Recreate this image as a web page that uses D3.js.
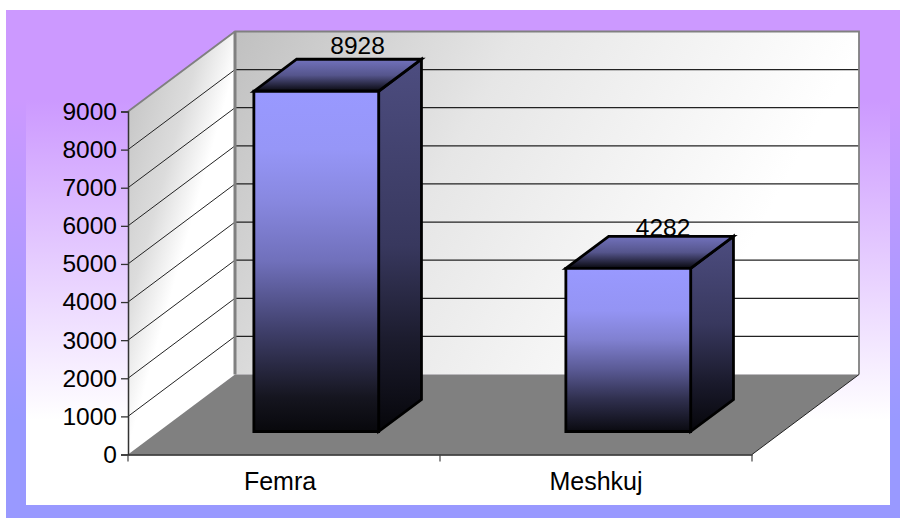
<!DOCTYPE html>
<html>
<head>
<meta charset="utf-8">
<script src="https://cdn.jsdelivr.net/npm/d3@7/dist/d3.min.js"></script>
<style>
  html, body { margin: 0; padding: 0; background: #fff; }
  svg { display: block; }
  text { font-family: "Liberation Sans", Arial, sans-serif; font-size: 24.5px; fill: #000; }
</style>
</head>
<body>
<svg width="900" height="518"></svg>
<script>
// Values
var categories = ['Femra', 'Meshkuj'];
var values = [8928, 4282];
var valueTicks = [0, 1000, 2000, 3000, 4000, 5000, 6000, 7000, 8000, 9000];

var svg = d3.select('svg');

// Front plane of the chart box
var left = 128, right = 752, bottom = 454.5, top3d = 111.5;
// How far the back wall is shifted from the front plane
var depthX = 107, depthY = 80;
// Where the bars sit inside the box depth (0 = front, 1 = back)
var barDepthFrom = 0.2875, barDepthTo = 0.6875;

var xScale = d3.scaleBand().domain(categories).range([left, right]).paddingInner(0).paddingOuter(0);
var yScale = d3.scaleLinear().domain([0, 9000]).range([bottom, top3d]);

// Project a point in the box (x on front plane, value, depth) to the screen
function px(x, depth) { return x + depthX * depth; }
function py(v, depth) { return yScale(v) - depthY * depth; }
function pts(list) { return list.map(function (p) { return p.join(','); }).join(' '); }

// Gradients
var defs = svg.append('defs');

function addGradient(id, attrs, stops) {
  var g = defs.append('linearGradient').attr('id', id);
  Object.keys(attrs).forEach(function (k) { g.attr(k, attrs[k]); });
  stops.forEach(function (s) {
    g.append('stop').attr('offset', s[0]).attr('stop-color', s[1]);
  });
}

var vert = { x1: 0, y1: 0, x2: 0, y2: 1 };
var userVert = { gradientUnits: 'userSpaceOnUse', x1: 0, y1: 100, x2: 0, y2: 420 };

addGradient('bgOuter', userVert, [[0, '#cc99ff'], [1, '#9999ff']]);
addGradient('bgInner', userVert, [[0, '#cc99ff'], [1, '#ffffff']]);
addGradient('wallBack', { gradientUnits: 'userSpaceOnUse', x1: 235, y1: 31, x2: 720, y2: 300 },
  [[0, '#c0c0c0'], [0.45, '#e6e6e6'], [1, '#ffffff']]);
addGradient('wallSide', { gradientUnits: 'userSpaceOnUse', x1: 128, y1: 120, x2: 235, y2: 150 },
  [[0, '#c8c8c8'], [0.45, '#dcdcdc'], [0.8, '#ffffff']]);

// Tall and short bars do not shade at the same rate, so each has its own stops
var frontStops = [
  [[0, '#9999ff'], [0.17, '#9696f7'], [0.32, '#8888e0'], [0.5, '#7070bb'], [0.7, '#40406c'], [0.9, '#15151f'], [1, '#08080c']],
  [[0, '#9999ff'], [0.26, '#9494f4'], [0.44, '#8080d0'], [0.62, '#5a5a95'], [0.8, '#30304f'], [1, '#0a0a10']]
];
var sideStops = [
  [[0, '#4d4d80'], [0.5, '#38385e'], [0.75, '#1c1c2e'], [1, '#06060a']],
  [[0, '#4d4d80'], [0.45, '#38385e'], [0.75, '#1a1a2c'], [1, '#06060a']]
];
categories.forEach(function (c, i) {
  addGradient('barFront' + i, vert, frontStops[i]);
  addGradient('barSide' + i, vert, sideStops[i]);
});
addGradient('barTop', vert, [[0, '#7272bd'], [0.5, '#55558c'], [1, '#08080e']]);

// Slide background
svg.append('rect').attr('x', 6).attr('y', 10).attr('width', 894).attr('height', 508).attr('fill', 'url(#bgOuter)');
svg.append('rect').attr('x', 26).attr('y', 10).attr('width', 864).attr('height', 495).attr('fill', 'url(#bgInner)');

// Back wall, side wall and floor
svg.append('polygon')
  .attr('points', pts([[px(left, 1), py(9000, 1)], [px(right, 1), py(9000, 1)], [px(right, 1), py(0, 1)], [px(left, 1), py(0, 1)]]))
  .attr('fill', 'url(#wallBack)');
svg.append('polygon')
  .attr('points', pts([[left, py(0, 0)], [px(left, 1), py(0, 1)], [px(left, 1), py(9000, 1)], [left, py(9000, 0)]]))
  .attr('fill', 'url(#wallSide)');

// Gridlines on both walls
valueTicks.slice(1, -1).forEach(function (v) {
  svg.append('line')
    .attr('x1', px(left, 1)).attr('x2', px(right, 1))
    .attr('y1', py(v, 1)).attr('y2', py(v, 1))
    .attr('stroke', '#222').attr('stroke-width', 1.2);
  svg.append('line')
    .attr('x1', left).attr('x2', px(left, 1))
    .attr('y1', py(v, 0)).attr('y2', py(v, 1))
    .attr('stroke', '#222').attr('stroke-width', 1);
});

svg.append('polygon')
  .attr('points', pts([[left, py(0, 0)], [right, py(0, 0)], [px(right, 1), py(0, 1)], [px(left, 1), py(0, 1)]]))
  .attr('fill', '#808080');

// Wall outlines
svg.append('polyline')
  .attr('points', pts([[left, py(9000, 0)], [px(left, 1), py(9000, 1)], [px(right, 1), py(9000, 1)], [px(right, 1), py(0, 1)]]))
  .attr('fill', 'none').attr('stroke', '#808080').attr('stroke-width', 1.8);
svg.append('line')
  .attr('x1', px(left, 1)).attr('x2', px(left, 1))
  .attr('y1', py(9000, 1)).attr('y2', py(0, 1))
  .attr('stroke', '#808080').attr('stroke-width', 3);
svg.append('line')
  .attr('x1', right).attr('x2', px(right, 1))
  .attr('y1', py(0, 0)).attr('y2', py(0, 1))
  .attr('stroke', '#222').attr('stroke-width', 1);

// Axes
var yAxis = d3.axisLeft(yScale).tickValues(valueTicks).tickSize(7).tickPadding(4).tickFormat(d3.format('d'));
var yG = svg.append('g').attr('transform', 'translate(' + left + ',0)').call(yAxis);
yG.selectAll('path').attr('stroke', '#333').attr('stroke-width', 1.5);
yG.selectAll('line').attr('stroke', '#333').attr('stroke-width', 1.3);
yG.selectAll('text').style('font-family', '"Liberation Sans", Arial, sans-serif').style('font-size', '24.5px').attr('fill', '#000');

var xAxis = d3.axisBottom(xScale).tickSize(0).tickPadding(18);
var xG = svg.append('g').attr('transform', 'translate(0,' + bottom + ')').call(xAxis);
xG.selectAll('path').attr('stroke', '#222').attr('stroke-width', 1.6);
xG.selectAll('text').style('font-family', '"Liberation Sans", Arial, sans-serif').style('font-size', '25px').attr('fill', '#000')
  .attr('dx', function (d, i) { return i === 0 ? -4 : 0; });

// Category ticks sit on the band edges
var bandEdges = categories.map(function (c) { return xScale(c); }).concat([right]);
svg.selectAll('line.edge').data(bandEdges).enter().append('line')
  .attr('class', 'edge')
  .attr('x1', function (d) { return d; }).attr('x2', function (d) { return d; })
  .attr('y1', bottom).attr('y2', bottom + 7)
  .attr('stroke', '#444').attr('stroke-width', 1.2);

// Bars
var barW = xScale.bandwidth() * 0.4;
var labelLift = [5.5, 0];
var labelShift = [0, -6.5];

var bars = svg.selectAll('g.bar').data(values).enter().append('g').attr('class', 'bar');

bars.each(function (v, i) {
  var g = d3.select(this);
  var x0 = xScale(categories[i]) + (xScale.bandwidth() - barW) / 2 + 1.5;
  var x1 = x0 + barW;
  var a = barDepthFrom, b = barDepthTo;

  // yScale(v) - yScale(0) gives the bar height from the floor at that depth
  g.append('polygon')
    .attr('points', pts([[px(x1, a), py(0, a)], [px(x1, b), py(0, b)], [px(x1, b), py(v, b)], [px(x1, a), py(v, a)]]))
    .attr('fill', 'url(#barSide' + i + ')');
  g.append('polygon')
    .attr('points', pts([[px(x0, a), py(v, a)], [px(x1, a), py(v, a)], [px(x1, b), py(v, b)], [px(x0, b), py(v, b)]]))
    .attr('fill', 'url(#barTop)');
  g.append('polygon')
    .attr('points', pts([[px(x0, a), py(v, a)], [px(x1, a), py(v, a)], [px(x1, a), py(0, a)], [px(x0, a), py(0, a)]]))
    .attr('fill', 'url(#barFront' + i + ')');

  g.selectAll('polygon')
    .attr('stroke', '#000').attr('stroke-width', 2.8).attr('stroke-linejoin', 'miter');

  g.append('text')
    .attr('x', (px(x0, b) + px(x1, b)) / 2 - 1.5 + labelShift[i])
    .attr('y', py(v, b) - labelLift[i])
    .attr('text-anchor', 'middle')
    .text(v);
});
</script>
</body>
</html>
